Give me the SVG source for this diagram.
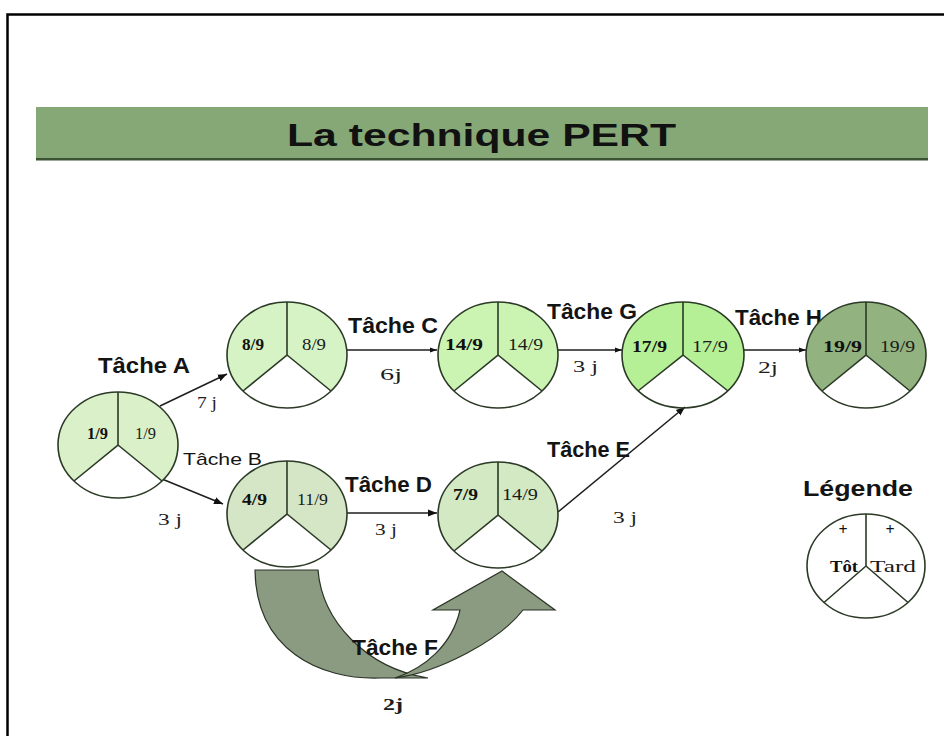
<svg xmlns="http://www.w3.org/2000/svg" width="944" height="736" viewBox="0 0 944 736">
<defs>
<marker id="arr" viewBox="0 0 10 10" refX="10" refY="5" markerWidth="9" markerHeight="9" markerUnits="userSpaceOnUse" orient="auto"><path d="M0,1 L10,5 L0,9 Z" fill="#111"/></marker>
<marker id="arrs" viewBox="0 0 10 10" refX="10" refY="5" markerWidth="7" markerHeight="7" markerUnits="userSpaceOnUse" orient="auto"><path d="M0,1.5 L10,5 L0,8.5 Z" fill="#111"/></marker>
</defs>
<style>
.ring{fill:none;stroke:#2b3a26;stroke-width:1.6}
.div{fill:none;stroke:#2b3a26;stroke-width:1.6}
.lbl{font-family:"Liberation Sans",Arial,sans-serif;font-weight:bold;font-size:22px;fill:#141414}
.lblr{font-family:"Liberation Sans",Arial,sans-serif;font-size:17px;fill:#141414}
.dur{font-family:"Liberation Serif","Times New Roman",serif;font-size:17px;fill:#1e1e1e}
.num{font-family:"Liberation Serif","Times New Roman",serif;font-size:16px;fill:#1a1a1a}
.numb{font-family:"Liberation Serif","Times New Roman",serif;font-size:16px;font-weight:bold;fill:#111}
.conn{stroke:#1e1e1e;stroke-width:1.5;fill:none}
.big{fill:#8b9b81;stroke:#2b3326;stroke-width:1.2}
</style>
<rect width="944" height="736" fill="#ffffff"/>
<path d="M7.5,736 L7.5,14.5 L944,14.5" fill="none" stroke="#000" stroke-width="2.5"/>
<g id="title">
<rect x="36" y="107" width="892" height="52" fill="#86a877"/>
<rect x="36" y="158" width="892" height="2.5" fill="#3b5233"/>
<text x="287" y="146" font-family="'Liberation Sans',Arial,sans-serif" font-weight="bold" font-size="31" fill="#111" textLength="389" lengthAdjust="spacingAndGlyphs">La technique PERT</text>
</g>

<g id="connectors">
<line class="conn" x1="160" y1="406" x2="227" y2="374" marker-end="url(#arr)"/>
<line class="conn" x1="162" y1="479" x2="223" y2="504" marker-end="url(#arr)"/>
<line class="conn" x1="347" y1="350" x2="437" y2="350" marker-end="url(#arrs)"/>
<line class="conn" x1="558" y1="350" x2="622" y2="350" marker-end="url(#arrs)"/>
<line class="conn" x1="744" y1="350" x2="806" y2="350" marker-end="url(#arrs)"/>
<line class="conn" x1="347" y1="513" x2="437" y2="513" marker-end="url(#arr)"/>
<line class="conn" x1="558" y1="512" x2="685" y2="407" marker-end="url(#arr)"/>
<text class="lbl" x="98" y="373" textLength="92" lengthAdjust="spacingAndGlyphs">Tâche A</text>
<text class="dur" x="197" y="408" textLength="20" lengthAdjust="spacingAndGlyphs">7 j</text>
<text class="lblr" x="183" y="465" textLength="79" lengthAdjust="spacingAndGlyphs">Tâche B</text>
<text class="dur" x="158" y="525" textLength="24" lengthAdjust="spacingAndGlyphs">3 j</text>
<text class="lbl" x="348" y="333" textLength="90" lengthAdjust="spacingAndGlyphs">Tâche C</text>
<text class="dur" x="380" y="380" textLength="22" lengthAdjust="spacingAndGlyphs">6j</text>
<text class="lbl" x="547" y="319" textLength="90" lengthAdjust="spacingAndGlyphs">Tâche G</text>
<text class="dur" x="573" y="372" textLength="25" lengthAdjust="spacingAndGlyphs">3 j</text>
<text class="lbl" x="735" y="325" textLength="87" lengthAdjust="spacingAndGlyphs">Tâche H</text>
<text class="dur" x="758" y="373" textLength="20" lengthAdjust="spacingAndGlyphs">2j</text>
<text class="lbl" x="345" y="492" textLength="87" lengthAdjust="spacingAndGlyphs">Tâche D</text>
<text class="dur" x="375" y="535" textLength="22" lengthAdjust="spacingAndGlyphs">3 j</text>
<text class="lbl" x="547" y="457" font-size="20" textLength="83" lengthAdjust="spacingAndGlyphs">Tâche E</text>
<text class="dur" x="613" y="523" textLength="24" lengthAdjust="spacingAndGlyphs">3 j</text>
<path class="big" d="M255,570 L318,570 C322,620 365,668 428,678 L380,678 C320,680 256,650 255,570 Z"/>
<text class="lbl" x="352" y="655" textLength="86" lengthAdjust="spacingAndGlyphs">Tâche F</text>
<path class="big" d="M395,678 C440,672 500,640 523,610 L555,610 L502,571 L433,610 L460,610 C452,645 425,668 395,678 Z"/>
<text class="dur" x="383" y="710" font-weight="bold" textLength="20" lengthAdjust="spacingAndGlyphs">2j</text>
</g>

<g id="n1">
<g transform="translate(118,445)">
<path d="M0,0 L0,-53 A60,53 0 0 0 -44,36 Z" fill="#d9f0c9"/>
<path d="M0,0 L0,-53 A60,53 0 0 1 44,36 Z" fill="#d9f0c9"/>
<ellipse rx="60" ry="53" class="ring"/>
<path d="M0,-53 V0 L-44,36 M0,0 L44,36" class="div"/>
</g>
<text class="numb" x="87" y="439" textLength="21" lengthAdjust="spacingAndGlyphs">1/9</text>
<text class="num" x="135" y="439" textLength="21" lengthAdjust="spacingAndGlyphs">1/9</text>
</g>

<g id="n2">
<g transform="translate(287,355)">
<path d="M0,0 L0,-53 A60,53 0 0 0 -44,36 Z" fill="#d5f3c4"/>
<path d="M0,0 L0,-53 A60,53 0 0 1 44,36 Z" fill="#d5f3c4"/>
<ellipse rx="60" ry="53" class="ring"/>
<path d="M0,-53 V0 L-44,36 M0,0 L44,36" class="div"/>
</g>
<text class="numb" x="242" y="350" textLength="22" lengthAdjust="spacingAndGlyphs">8/9</text>
<text class="num" x="302" y="350" textLength="24" lengthAdjust="spacingAndGlyphs">8/9</text>
</g>

<g id="n3">
<g transform="translate(498,355)">
<path d="M0,0 L0,-53 A60,53 0 0 0 -44,36 Z" fill="#cbf4b3"/>
<path d="M0,0 L0,-53 A60,53 0 0 1 44,36 Z" fill="#cbf4b3"/>
<ellipse rx="60" ry="53" class="ring"/>
<path d="M0,-53 V0 L-44,36 M0,0 L44,36" class="div"/>
</g>
<text class="numb" x="445" y="350" textLength="38" lengthAdjust="spacingAndGlyphs">14/9</text>
<text class="num" x="508" y="350" textLength="35" lengthAdjust="spacingAndGlyphs">14/9</text>
</g>

<g id="n4">
<g transform="translate(683,355)">
<path d="M0,0 L0,-53 A61,53 0 0 0 -45,36 Z" fill="#b6f096"/>
<path d="M0,0 L0,-53 A61,53 0 0 1 45,36 Z" fill="#b6f096"/>
<ellipse rx="61" ry="53" class="ring"/>
<path d="M0,-53 V0 L-45,36 M0,0 L45,36" class="div"/>
</g>
<text class="numb" x="632" y="352" textLength="35" lengthAdjust="spacingAndGlyphs">17/9</text>
<text class="num" x="692" y="352" textLength="36" lengthAdjust="spacingAndGlyphs">17/9</text>
</g>

<g id="n5">
<g transform="translate(866,355)">
<path d="M0,0 L0,-53 A60,53 0 0 0 -44,36 Z" fill="#92b280"/>
<path d="M0,0 L0,-53 A60,53 0 0 1 44,36 Z" fill="#92b280"/>
<ellipse rx="60" ry="53" class="ring"/>
<path d="M0,-53 V0 L-44,36 M0,0 L44,36" class="div"/>
</g>
<text class="numb" x="823" y="352" textLength="39" lengthAdjust="spacingAndGlyphs">19/9</text>
<text class="num" x="880" y="352" textLength="35" lengthAdjust="spacingAndGlyphs">19/9</text>
</g>

<g id="n6">
<g transform="translate(287,514)">
<path d="M0,0 L0,-53 A60,53 0 0 0 -44,36 Z" fill="#d4e6c6"/>
<path d="M0,0 L0,-53 A60,53 0 0 1 44,36 Z" fill="#d4e6c6"/>
<ellipse rx="60" ry="53" class="ring"/>
<path d="M0,-53 V0 L-44,36 M0,0 L44,36" class="div"/>
</g>
<text class="numb" x="242" y="505" textLength="25" lengthAdjust="spacingAndGlyphs">4/9</text>
<text class="num" x="297" y="505" textLength="31" lengthAdjust="spacingAndGlyphs">11/9</text>
</g>

<g id="n7">
<g transform="translate(498,515)">
<path d="M0,0 L0,-53 A60,53 0 0 0 -44,36 Z" fill="#d3e9c3"/>
<path d="M0,0 L0,-53 A60,53 0 0 1 44,36 Z" fill="#d3e9c3"/>
<ellipse rx="60" ry="53" class="ring"/>
<path d="M0,-53 V0 L-44,36 M0,0 L44,36" class="div"/>
</g>
<text class="numb" x="453" y="500" textLength="25" lengthAdjust="spacingAndGlyphs">7/9</text>
<text class="num" x="502" y="500" textLength="36" lengthAdjust="spacingAndGlyphs">14/9</text>
</g>

<g id="legend">
<text class="lbl" x="803" y="496" textLength="110" lengthAdjust="spacingAndGlyphs">Légende</text>
<g transform="translate(866,566)">
<ellipse rx="59" ry="52" fill="#ffffff" class="ring" stroke="#222"/>
<path d="M0,-52 V0 L-42,36.5 M0,0 L42,36.5" class="div" stroke="#222"/>
</g>
<text class="numb" x="843" y="535" text-anchor="middle">+</text>
<text class="numb" x="890" y="535" text-anchor="middle">+</text>
<text class="numb" x="830" y="572" textLength="28" lengthAdjust="spacingAndGlyphs">Tôt</text>
<text class="num" x="870" y="572" textLength="46" lengthAdjust="spacingAndGlyphs">Tard</text>
</g>
</svg>
